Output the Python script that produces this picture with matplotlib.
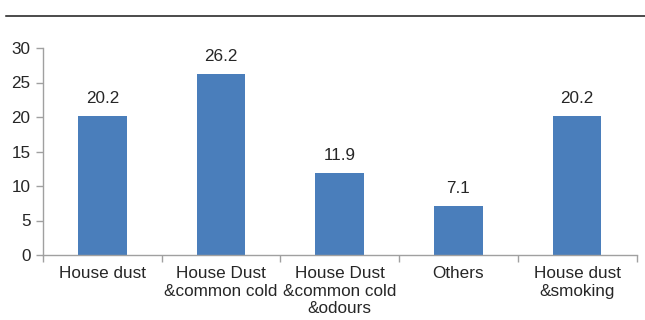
import matplotlib
matplotlib.use("Agg")
import matplotlib.pyplot as plt
from matplotlib.lines import Line2D

categories = ["House dust", "House Dust\n&common cold", "House Dust\n&common cold\n&odours",
              "Others", "House dust\n&smoking"]
values = [20.2, 26.2, 11.9, 7.1, 20.2]
value_labels = ["20.2", "26.2", "11.9", "7.1", "20.2"]
y_ticks = [0, 5, 10, 15, 20, 25, 30]

plt.rcParams["font.family"] = ["Liberation Sans", "DejaVu Sans"]
fs = 12.3
bar_color = "#4a7ebb"
axis_color = "#a0a0a0"
text_color = "#262626"

fig = plt.figure(figsize=(6.45, 3.2), dpi=100)
W, H = 645, 320
ax_left, ax_right, ax_top, ax_bottom = 43, 636.5, 48, 255
ax = fig.add_axes([ax_left / W, 1 - ax_bottom / H,
                   (ax_right - ax_left) / W, (ax_bottom - ax_top) / H])

x = list(range(len(categories)))
ax.bar(x, values, width=0.41, color=bar_color, zorder=2)
for xi, v, lab in zip(x, values, value_labels):
    ax.annotate(lab, (xi, v), xytext=(0, 7), textcoords="offset points",
                ha="center", va="bottom", fontsize=fs, color=text_color)

ax.set_xlim(-0.5, len(categories) - 0.5)
ax.set_ylim(0, 30)
ax.set_yticks(y_ticks)
ax.tick_params(axis="y", labelsize=fs, colors=axis_color, labelcolor=text_color,
               length=5, width=1, pad=4)

# category labels centred, tick marks on the category boundaries
ax.set_xticks(x)
ax.set_xticklabels(categories, fontsize=fs, color=text_color, linespacing=1.2)
ax.tick_params(axis="x", length=0, pad=8)
ax.set_xticks([i - 0.5 for i in range(len(categories) + 1)], minor=True)
ax.tick_params(axis="x", which="minor", length=5, width=1, colors=axis_color)

for side in ("top", "right"):
    ax.spines[side].set_visible(False)
for side in ("left", "bottom"):
    ax.spines[side].set_color(axis_color)
    ax.spines[side].set_linewidth(1)

# rule across the top of the figure
fig.add_artist(Line2D([6 / W, 1], [1 - 15.5 / H] * 2, color="#1a1a1a", lw=1.1))

fig.savefig("out.png", dpi=100)
